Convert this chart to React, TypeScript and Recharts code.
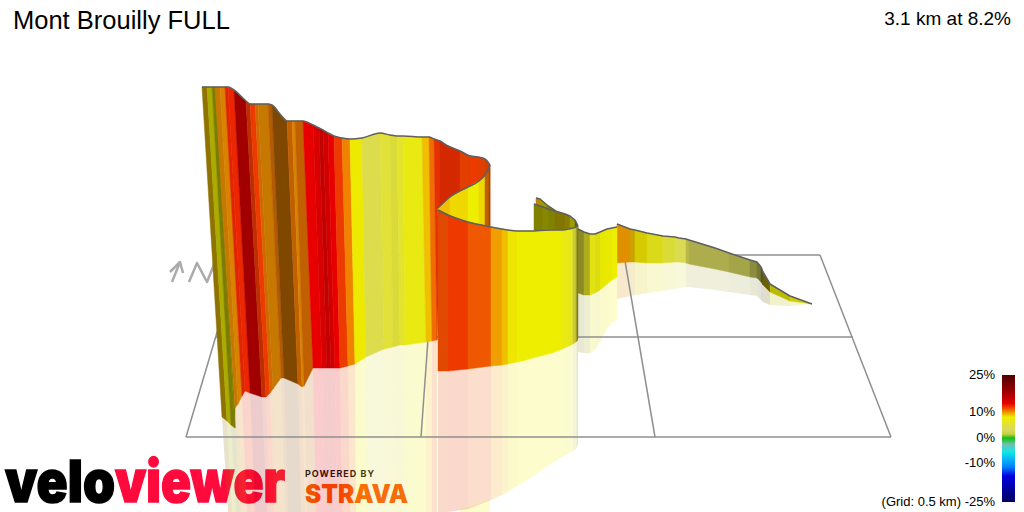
import React from "react";
import { ScatterChart, Scatter, XAxis, YAxis, Polygon } from "recharts";

// Scale of gradient (%) to colour
const scaleGrades = [25, 18, 13.5, 11, 10, 8, 3, 1.5, 0, -2.5, -5.5, -11.5, -15, -25];
const scaleColors = ["#500000", "#a00000", "#e80000", "#f06000", "#f09000", "#eeee00", "#d8d860", "#c8d040", "#10c010", "#70c0b0", "#10e8e8", "#0080ff", "#0000e0", "#000060"];
const legendTicks = [25, 10, 0, -10, -25];
const legendTickY = [375, 412, 438, 463, 502];

// Main wall, projected
const mainTopX = [202,207,212,215,215,220,225,228,234,246,250,255,258,268,272,287,292,295,303,313,319,323,328,334,342,350,362,380,390,397,403,422,429,434,440,446,460,470,478,485,490];
const mainTopY = [87,87,87,87,87,87,87,87,90,101,104,104,104,104,105,121,121,121,121,125,128,130,133,136,138,139,138,133,135,136,136,137,137,139,141,145,151,156,157,159,165];
const mainBaseX = [222,227,231,235,235,238,242,245,250,262,266,270,273,281,284,298,302,304,313,322,327,331,335,340,348,355,366,384,393,400,405,426,432,437,440,446,460,470,478,485,490];
const mainBaseY = [417,421,425,428,408,404,396,391,393,397,397,393,389,378,378,384,387,386,368,368,368,368,368,368,366,364,357,349,347,345,345,342,341,340,240,240,240,240,240,240,240];
const mainMirrorX = [228,232,236,240,240,243,247,250,255,267,270,274,277,285,288,301,305,307,316,325,330,333,337,342,350,356,367,385,394,401,406,426,432,437];
const mainMirrorY = mainMirrorX.map(() => 512);
const mainGrades = [9,8,8,8,10,10,12.5,12.5,13.5,12,12,10.5,10,10.5,10.2,10.5,10,10.5,13.5,13.5,13.5,13.5,13.5,12,10.3,8.1,4,5,5,5.5,7,9,10.7,12.2,12.3,12.3,11.8,12,11.8,11.5];
const mainShades = [0.6,0.72,0.52,0.52,0.83,0.9,0.95,1,0.7,0.8,1,0.87,0.83,0.75,0.53,0.8,0.9,0.8,1,0.93,0.83,0.9,1,1,1,1,1,1,0.97,1,1,1,1,0.97,0.9,0.9,0.95,1,0.95,0.85];

// Fold behind the front wall
const foldTopX = [438,450,468,479,485,489,490];
const foldTopY = [208,197,187,181,175,168,165];
const foldBaseY = [215,220,226,228,229,229,229];
const foldGrades = [9,8.5,8,8.5,10.5,11];
const foldShades = [1,1,1,1,0.8,0.7];
const foldMirrorX = [460,490];
const foldMirrorTop = [510,500];
const foldMirrorBase = [512,512];

// Front wall
const frontTopX = [438,448,468,491,502,508,517,523,529,552,562,569,573,576,577,578];
const frontTopY = [210,215,222,227,229,230,231,231,231,230,230,229,228,227,226,226];
const frontBaseY = [371,371,369,366,365,364,362,361,359,353,349,346,344,342,341,338];
const frontMirrorY = [512,512,509,500,495,492,486,483,479,463,457,453,451,449,447,443];
const frontGrades = [11.5,12,11.2,9.7,9,8.2,8,8,8,8,7,6,5,5,5];
const frontShades = [0.95,1,1,1,1,1,1,1,1,1,1,1,0.9,0.75,0.55];

// Small far wall above the front wall
const farTopX = [534,543,548,555,565,570,575,578];
const farTopY = [204,207,209,211,214,216,220,226];
const farBaseY = [233,233,233,233,233,233,233,233];
const farGrades = [8,8,8,8.5,8.5,8,6];
const farShades = [0.54,0.57,0.54,0.55,0.58,0.66,0.4];
const tipTopX = [536,540,547,556];
const tipTopY = [198,199,205,211];
const tipBaseY = [206,207,209,211];
const tipGrades = [9.5,8,8];
const tipShades = [0.8,0.66,0.55];

// Short wall after the turn
const midTopX = [578,584,590,595,600,607,612,617];
const midTopY = [229,232,234,234,232,229,228,227];
const midBaseY = [293,295,295,293,290,284,280,277];
const midMirrorY = [352,353,353,350,342,329,323,320];
const midGrades = [5,6,7,7,8,8,8];
const midShades = [0.62,0.75,0.97,0.94,0.97,0.98,1];

// Summit wall
const endTopX = [617,630,635,647,663,675,679,686,689,715,729,750,757,761,763,770,790,812];
const endTopY = [224,229,230,233,236,237,238,239,240,248,253,260,262,267,272,284,296,304];
const endBaseY = [263,262,262,263,263,262,262,263,264,269,272,277,278,282,285,292,301,304];
const endMirrorY = [299,296,295,293,291,289,288,287,287,290,292,295,296,300,302,305,306,304];
const endGrades = [9.8,9,8.3,6.5,5,4,3.5,3.5,3,3,3,3,3,3,8.5,8,8];
const endShades = [0.93,0.85,0.9,0.94,0.97,1,1,0.85,0.8,0.8,0.76,0.65,0.55,0.4,0.45,0.78,0.87];

// Floor grid and north mark
const gridX = [[186,891],[216,853],[240,820],[186,240],[891,820],[421,434],[655,624]];
const gridY = [[437,437],[337,337],[255,255],[437,255],[437,255],[437,255],[437,255]];
const arrowX = [[172,180],[170,180,183],[189,197,207,215]];
const arrowY = [[282,262],[272,262,273],[282,263,282,262]];

const SANS = "'Liberation Sans', Arial, sans-serif";

const hex = (c: string) => [1, 3, 5].map((i) => parseInt(c.slice(i, i + 2), 16));
function gradeColor(g: number, shade = 1) {
  let i = 0;
  while (i < scaleGrades.length - 2 && g < scaleGrades[i + 1]) i++;
  const t = (scaleGrades[i] - g) / (scaleGrades[i] - scaleGrades[i + 1]);
  const a = hex(scaleColors[i]);
  const b = hex(scaleColors[i + 1]);
  const c = a.map((v, k) => Math.round((v + (b[k] - v) * t) * shade));
  return `rgb(${c[0]},${c[1]},${c[2]})`;
}
function legendY(g: number) {
  let i = 0;
  while (i < legendTicks.length - 2 && g < legendTicks[i + 1]) i++;
  const t = (legendTicks[i] - g) / (legendTicks[i] - legendTicks[i + 1]);
  return legendTickY[i] + (legendTickY[i + 1] - legendTickY[i]) * t;
}

const noDot = () => null;

function strips(key: string, tx: number[], ty: number[], bx: number[], by: number[], grades: number[], shades: number[], opacity = 1) {
  return grades.map((g, i) => {
    const color = gradeColor(g, shades[i]);
    const corners = [
      { x: tx[i], y: ty[i] },
      { x: tx[i + 1], y: ty[i + 1] },
      { x: bx[i + 1], y: by[i + 1] },
      { x: bx[i], y: by[i] },
    ];
    return (
      <Scatter
        key={`${key}-${i}`}
        data={corners}
        isAnimationActive={false}
        shape={noDot}
        line={(p: any) => (
          <Polygon points={p.points} fill={color} fillOpacity={opacity} stroke={opacity === 1 ? color : "none"} strokeWidth={0.5} />
        )}
      />
    );
  });
}

function polyline(key: string, xs: number[], ys: number[], stroke: string, width: number, smooth = false) {
  const pts = xs.map((x, i) => ({ x, y: ys[i] }));
  return (
    <Scatter
      key={key}
      data={pts}
      isAnimationActive={false}
      shape={noDot}
      lineJointType={smooth ? "monotoneX" : "linear"}
      line={{ stroke, strokeWidth: width, strokeLinejoin: "round" } as any}
    />
  );
}

const MIRROR = 0.2;
const OUTLINE = "#5f5f5f";
const GRID = "#8f8f8f";
const LOGO = "Inter, Roboto, sans-serif";

export default function App() {
  const barTop = legendTickY[0];
  const barBottom = legendTickY[legendTickY.length - 1];
  return (
    <div style={{ position: "absolute", left: 0, top: 0, width: 1024, height: 512, overflow: "hidden", background: "#fff" }}>
      <ScatterChart width={1024} height={512} margin={{ top: 0, right: 0, bottom: 0, left: 0 }}>
        <defs>
          <linearGradient id="gradeBar" x1="0" y1="0" x2="0" y2="1">
            {scaleGrades.map((g, i) => (
              <stop key={g} offset={(legendY(g) - barTop) / (barBottom - barTop)} stopColor={scaleColors[i]} />
            ))}
          </linearGradient>
        </defs>
        <XAxis type="number" dataKey="x" domain={[0, 1024]} allowDataOverflow hide />
        <YAxis type="number" dataKey="y" domain={[0, 512]} allowDataOverflow reversed hide />

        {strips("m-end", endTopX, endBaseY, endTopX, endMirrorY, endGrades, endShades, MIRROR)}
        {strips("m-mid", midTopX, midBaseY, midTopX, midMirrorY, midGrades, midShades, MIRROR)}
        {strips("m-fold", foldMirrorX, foldMirrorTop, foldMirrorX, foldMirrorBase, [8], [1], MIRROR)}
        {strips("m-main", mainBaseX, mainBaseY, mainMirrorX, mainMirrorY, mainGrades.slice(0, 33), mainShades, MIRROR)}
        {strips("m-front", frontTopX, frontBaseY, frontTopX, frontMirrorY, frontGrades, frontShades, MIRROR)}

        {gridX.map((xs, i) => polyline(`grid-${i}`, xs, gridY[i], GRID, 1.5))}
        {arrowX.map((xs, i) => polyline(`arrow-${i}`, xs, arrowY[i], "#ababab", 2.5))}

        {strips("tip", tipTopX, tipTopY, tipTopX, tipBaseY, tipGrades, tipShades)}
        {polyline("tip-line", tipTopX, tipTopY, OUTLINE, 1.5)}
        {strips("far", farTopX, farTopY, farTopX, farBaseY, farGrades, farShades)}
        {polyline("far-line", farTopX, farTopY, OUTLINE, 1.5)}
        {strips("end", endTopX, endTopY, endTopX, endBaseY, endGrades, endShades)}
        {polyline("end-line", endTopX, endTopY, OUTLINE, 1.5)}
        {strips("mid", midTopX, midTopY, midTopX, midBaseY, midGrades, midShades)}
        {polyline("mid-line", midTopX, midTopY, OUTLINE, 1.5)}
        {strips("main", mainTopX, mainTopY, mainBaseX, mainBaseY, mainGrades, mainShades)}
        {polyline("main-line", mainTopX, mainTopY, OUTLINE, 1.5, true)}
        {strips("fold", foldTopX, foldTopY, foldTopX, foldBaseY, foldGrades, foldShades)}
        {polyline("fold-line", foldTopX, foldTopY, OUTLINE, 1.5, true)}
        {strips("front", frontTopX, frontTopY, frontTopX, frontBaseY, frontGrades, frontShades)}
        {polyline("front-line", frontTopX, frontTopY, OUTLINE, 1.5, true)}

        <Scatter
          data={[{ x: 1002, y: barTop }, { x: 1015, y: barTop }, { x: 1015, y: barBottom }, { x: 1002, y: barBottom }]}
          isAnimationActive={false}
          shape={noDot}
          line={(p: any) => <Polygon points={p.points} fill="url(#gradeBar)" stroke="none" />}
        />

        <text x={13} y={29} fontFamily={SANS} fontSize={25.5} fill="#000">Mont Brouilly FULL</text>
        <text x={1011} y={25} textAnchor="end" fontFamily={SANS} fontSize={19} fill="#000">3.1 km at 8.2%</text>
        {legendTicks.map((g, i) => (
          <text key={g} x={995} y={legendTickY[i] + 4} textAnchor="end" fontFamily={SANS} fontSize={13} fill="#000">
            {g === -25 ? `(Grid: 0.5 km) ${g}%` : `${g}%`}
          </text>
        ))}

        <text x={5} y={502} fontFamily={LOGO} fontWeight={900} fontSize={58} fill="#000" stroke="#000" strokeWidth={1.5} textLength={110} lengthAdjust="spacingAndGlyphs">velo</text>
        <text x={115} y={502} fontFamily={LOGO} fontWeight={900} fontSize={58} fill="#ff0a3c" stroke="#ff0a3c" strokeWidth={1.5} textLength={170} lengthAdjust="spacingAndGlyphs">viewer</text>
        <text x={305} y={477} fontFamily="Inter, sans-serif" fontWeight={700} fontSize={9} fill="#111" textLength={69}>POWERED BY</text>
        <text x={305} y={503} fontFamily={LOGO} fontWeight={900} fontSize={26} fill="#fc5200" textLength={103} lengthAdjust="spacingAndGlyphs">STRAVA</text>
      </ScatterChart>
    </div>
  );
}
